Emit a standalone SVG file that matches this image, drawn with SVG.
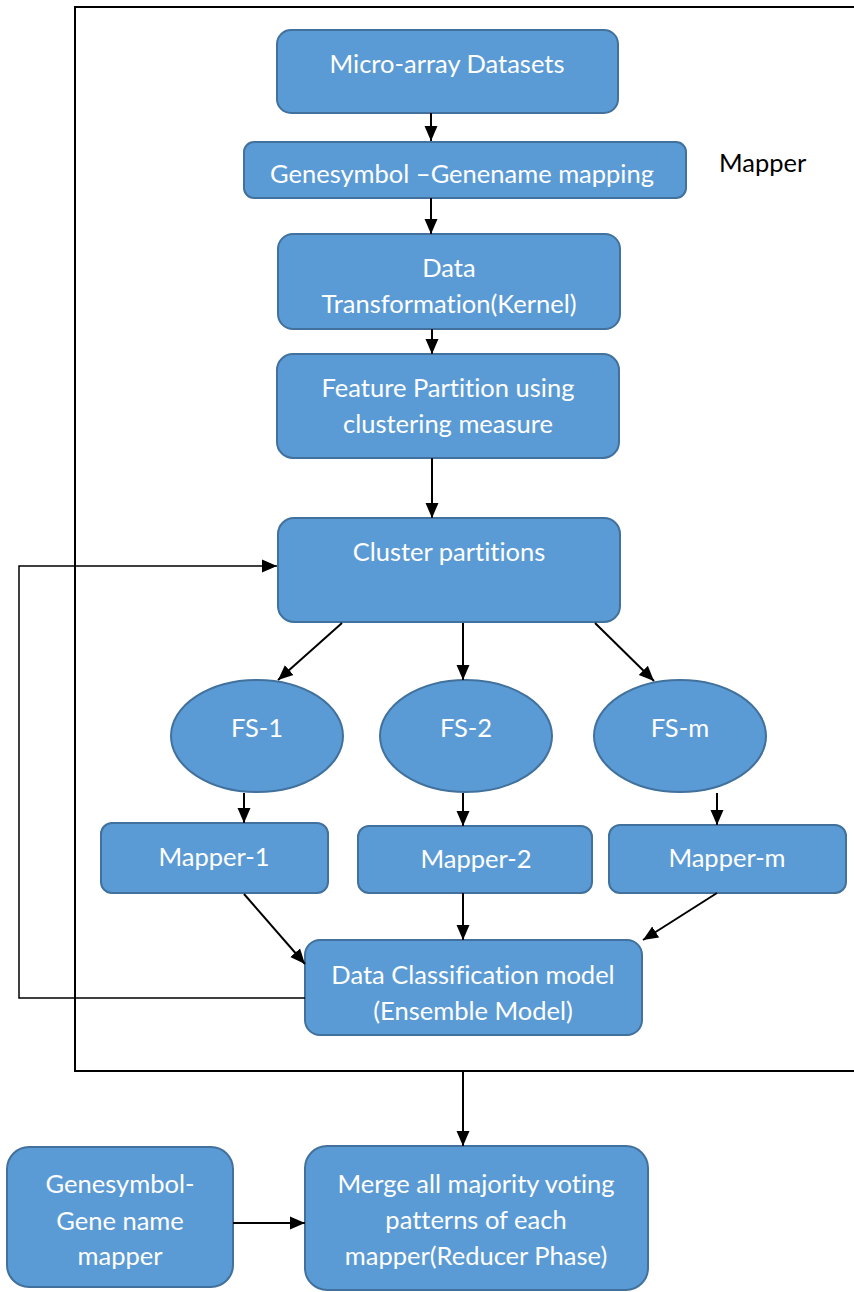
<svg xmlns="http://www.w3.org/2000/svg" width="854" height="1292" viewBox="0 0 854 1292">
<style>
.n{fill:#5B9BD5;stroke:#41719C;stroke-width:2}
.t{font-family:Lato,"Liberation Sans",sans-serif;font-size:25.5px;fill:#FFFFFF;text-anchor:middle;dominant-baseline:central;font-variant-ligatures:none}
.c{fill:none;stroke:#000;stroke-width:2}
.f{fill:none;stroke:#000;stroke-width:1.5}
</style>
<defs>
<marker id="ah" markerUnits="userSpaceOnUse" markerWidth="16" markerHeight="16" viewBox="0 0 16 16" refX="15" refY="8" orient="auto">
<path d="M0,1.5 L15,8 L0,14.5 Z" fill="#000"/>
</marker>
</defs>
<rect width="854" height="1292" fill="#fff"/>
<g id="frame">
<polyline points="856,7 75,7 75,1071 856,1071" fill="none" stroke="#000" stroke-width="2"/>
</g>
<g id="label-mapper"><text x="719" y="162" font-family="Lato,'Liberation Sans',sans-serif" font-size="25.5px" fill="#000" dominant-baseline="central">Mapper</text></g>
<g id="n1"><rect class="n" x="277" y="30" width="341" height="83" rx="14"/><text class="t" x="447" y="63">Micro-array Datasets</text></g>
<g id="n2"><rect class="n" x="244" y="142" width="442" height="56" rx="10"/><text class="t" x="462" y="173">Genesymbol –Genename mapping</text></g>
<g id="n3"><rect class="n" x="278" y="234" width="342" height="95" rx="15"/><text class="t" x="449" y="267">Data</text><text class="t" x="449" y="303">Transformation(Kernel)</text></g>
<g id="n4"><rect class="n" x="277" y="354" width="342" height="104" rx="16"/><text class="t" x="448" y="387">Feature Partition using</text><text class="t" x="448" y="423">clustering measure</text></g>
<g id="n5"><rect class="n" x="278" y="518" width="342" height="104" rx="16"/><text class="t" x="449" y="551">Cluster partitions</text></g>
<g id="fs1"><ellipse class="n" cx="257" cy="736" rx="86" ry="56"/><text class="t" x="257" y="727">FS-1</text></g>
<g id="fs2"><ellipse class="n" cx="466" cy="736" rx="86" ry="56"/><text class="t" x="466" y="727">FS-2</text></g>
<g id="fsm"><ellipse class="n" cx="680" cy="736" rx="86" ry="56"/><text class="t" x="680" y="727">FS-m</text></g>
<g id="m1"><rect class="n" x="101" y="823" width="227" height="70" rx="11"/><text class="t" x="214" y="856">Mapper-1</text></g>
<g id="m2"><rect class="n" x="358" y="826" width="234" height="67" rx="11"/><text class="t" x="476" y="858">Mapper-2</text></g>
<g id="mm"><rect class="n" x="609" y="825" width="237" height="68" rx="11"/><text class="t" x="727" y="857">Mapper-m</text></g>
<g id="dc"><rect class="n" x="305" y="940" width="337" height="95" rx="15"/><text class="t" x="473" y="974">Data Classification model</text><text class="t" x="473" y="1010">(Ensemble Model)</text></g>
<g id="gm"><rect class="n" x="7" y="1147" width="226" height="140" rx="22"/><text class="t" x="120" y="1183">Genesymbol-</text><text class="t" x="120" y="1220">Gene name</text><text class="t" x="120" y="1255">mapper</text></g>
<g id="merge"><rect class="n" x="305" y="1146" width="343" height="144" rx="22"/><text class="t" x="476" y="1183">Merge all majority voting</text><text class="t" x="476" y="1219">patterns of each</text><text class="t" x="476" y="1255">mapper(Reducer Phase)</text></g>
<g id="connectors">
<line class="c" x1="431" y1="113" x2="431" y2="141" marker-end="url(#ah)"/>
<line class="c" x1="431" y1="198" x2="431" y2="234" marker-end="url(#ah)"/>
<line class="c" x1="432" y1="329" x2="432" y2="354" marker-end="url(#ah)"/>
<line class="c" x1="432" y1="458" x2="432" y2="518" marker-end="url(#ah)"/>
<line class="c" x1="342" y1="623" x2="278" y2="680" marker-end="url(#ah)"/>
<line class="c" x1="463" y1="623" x2="463" y2="680" marker-end="url(#ah)"/>
<line class="c" x1="595" y1="623" x2="654" y2="681" marker-end="url(#ah)"/>
<line class="c" x1="244" y1="793" x2="244" y2="823" marker-end="url(#ah)"/>
<line class="c" x1="463" y1="793" x2="463" y2="826" marker-end="url(#ah)"/>
<line class="c" x1="717" y1="793" x2="717" y2="825" marker-end="url(#ah)"/>
<line class="c" x1="244" y1="894" x2="305" y2="964" marker-end="url(#ah)"/>
<line class="c" x1="463" y1="893" x2="463" y2="940" marker-end="url(#ah)"/>
<line class="c" x1="717" y1="893" x2="643" y2="940" marker-end="url(#ah)"/>
<polyline class="f" points="305,998 19,998 19,566 277,566" marker-end="url(#ah)"/>
<line class="c" x1="463" y1="1072" x2="463" y2="1146" marker-end="url(#ah)"/>
<line class="c" x1="233" y1="1223" x2="305" y2="1223" marker-end="url(#ah)"/>
</g>
</svg>
